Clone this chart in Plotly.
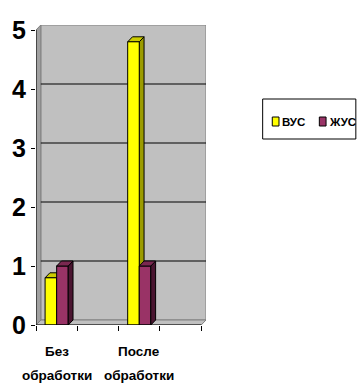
import plotly.graph_objects as go

# ---- data -------------------------------------------------------------
categories = ["Без обработки", "", "После обработки", ""]
series_names = ["ВУС", "ЖУС"]
vus_values = [0.8, None, 4.8, None]
zhus_values = [1.0, None, 1.0, None]
y_ticks = [0, 1, 2, 3, 4, 5]

# ---- styling ----------------------------------------------------------
W, H = 360, 387
L, T = 29, 25
PW, PH = 177, 300
FONT = "Liberation Sans Narrow, Arial Narrow, Liberation Sans, Arial, sans-serif"

front_colors = ["#FFFF00", "#993366"]
side_colors = ["#9C9C00", "#4A1530"]
top_colors = ["#CCCC00", "#7A2850"]

DX = 5 / 43.0     # depth offset, category units
DY = 5 / 59.0     # depth offset, value units
BAR_W = 0.28
offsets = [-BAR_W, 0.0]
YMAX = 5

fig = go.Figure()
shapes = []


def poly(points, fill, layer, line_color="black", width=1):
    path = "M " + " L ".join(f"{x},{y}" for x, y in points) + " Z"
    return dict(type="path", path=path, xref="x", yref="y", fillcolor=fill,
                line=dict(color=line_color, width=width), layer=layer)


# pixel -> paper helpers (paper spans the plot area)
def px(x):
    return (x - L) / PW


def py(y):
    return (T + PH - y) / PH


x0, x1 = -0.5, len(categories) - 0.5

# back wall, floor and left wall of the 3-D box
shapes.append(poly([(x0 + DX, DY), (x1 + DX, DY), (x1 + DX, YMAX + DY), (x0 + DX, YMAX + DY)],
                   "#C0C0C0", "below", "#808080"))
shapes.append(poly([(x0, 0), (x1, 0), (x1 + DX, DY), (x0 + DX, DY)],
                   "#C0C0C0", "below", "#808080"))
shapes.append(poly([(x0, 0), (x0 + DX, DY), (x0 + DX, YMAX + DY), (x0, YMAX)],
                   "#A0A0A0", "below", "#808080"))

# horizontal gridlines on the back wall
for k in y_ticks[1:-1]:
    shapes.append(dict(type="line", xref="x", yref="y", x0=x0 + DX, x1=x1 + DX,
                       y0=k + DY, y1=k + DY, line=dict(color="black", width=1), layer="below"))

# bars: front faces as traces, side and top faces as shapes
series = [vus_values, zhus_values]
for si, (name, vals) in enumerate(zip(series_names, series)):
    xs = [i for i, v in enumerate(vals) if v is not None]
    ys = [v for v in vals if v is not None]
    fig.add_trace(go.Bar(
        x=xs, y=ys, name=name, width=BAR_W, offset=offsets[si],
        marker=dict(color=front_colors[si], line=dict(color="black", width=1)),
        showlegend=False, hoverinfo="skip"))
    layer = "between" if si == 0 else "above"
    for x, v in zip(xs, ys):
        bx0 = x + offsets[si]
        bx1 = bx0 + BAR_W
        shapes.append(poly([(bx1, 0), (bx1 + DX, DY), (bx1 + DX, v + DY), (bx1, v)],
                           side_colors[si], layer))
        shapes.append(poly([(bx0, v), (bx1, v), (bx1 + DX, v + DY), (bx0 + DX, v + DY)],
                           top_colors[si], layer))

# front edges of the box (axis lines)
shapes.append(dict(type="line", xref="x", yref="y", x0=x0, x1=x0, y0=0, y1=YMAX,
                   line=dict(color="black", width=1), layer="above"))
shapes.append(dict(type="line", xref="x", yref="y", x0=x0, x1=x1, y0=0, y1=0,
                   line=dict(color="black", width=1), layer="above"))

# category labels, two lines each
annotations = []
for i, cat in enumerate(categories):
    if not cat:
        continue
    for li, word in enumerate(cat.split(" ")):
        annotations.append(dict(x=i, y=py(351 + li * 24), xref="x", yref="paper",
                                text=f"<b>{word}</b>", showarrow=False,
                                font=dict(family=FONT, size=13.5, color="black"),
                                xanchor="center", yanchor="middle"))

# legend box
shapes.append(dict(type="rect", xref="paper", yref="paper", x0=px(265), x1=px(362),
                   y0=py(139), y1=py(99), line=dict(color="black", width=1),
                   fillcolor="white", layer="above"))
for si, name in enumerate(series_names):
    sx = 275 + si * 49
    shapes.append(dict(type="rect", xref="paper", yref="paper", x0=px(sx), x1=px(sx + 7),
                       y0=py(126), y1=py(117), fillcolor=front_colors[si],
                       line=dict(color="black", width=1), layer="above"))
    annotations.append(dict(x=px(sx + 8), y=py(121.5), xref="paper", yref="paper",
                            text=f"<b>{name}</b>", showarrow=False, xanchor="left",
                            yanchor="middle", font=dict(family=FONT, size=11.5, color="black")))

fig.update_layout(
    width=W, height=H,
    margin=dict(l=L, r=W - L - PW, t=T, b=H - T - PH, pad=0),
    paper_bgcolor="white", plot_bgcolor="white",
    barmode="overlay",
    shapes=shapes, annotations=annotations,
    showlegend=False,
    xaxis=dict(range=[x0, x1 + DX], showgrid=False, zeroline=False, showline=False,
               showticklabels=False, ticks="", fixedrange=True,
               minor=dict(tickmode="linear", tick0=x0, dtick=1, ticks="outside",
                          ticklen=5, tickcolor="black", showgrid=False)),
    yaxis=dict(range=[0, YMAX + DY], tickvals=y_ticks, ticktext=[f"<b>{t}</b>" for t in y_ticks],
               showgrid=False, zeroline=False, showline=False, ticks="outside",
               ticklen=4, tickcolor="black", fixedrange=True,
               tickfont=dict(family=FONT, size=25, color="black")),
)

fig.write_html("out.html")
